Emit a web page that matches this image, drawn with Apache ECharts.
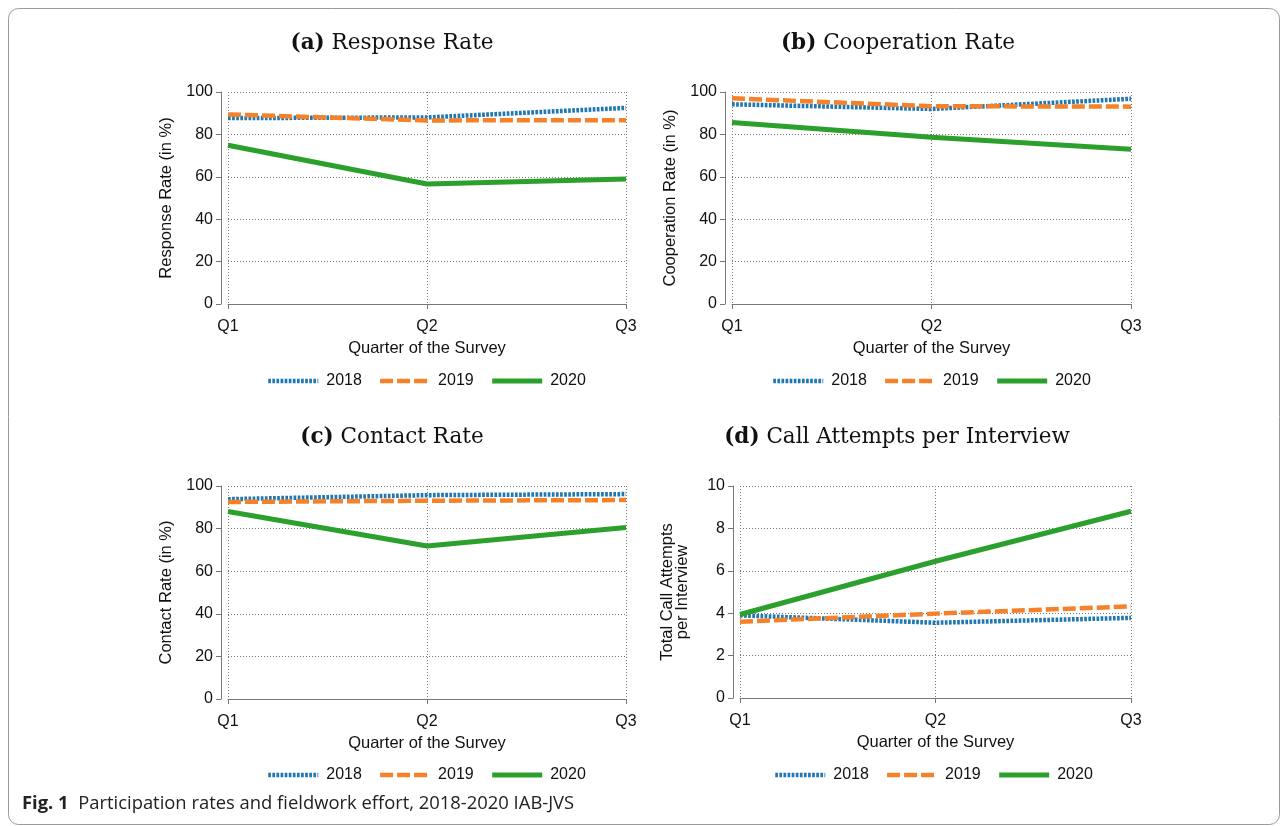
<!DOCTYPE html>
<html>
<head>
<meta charset="utf-8">
<script src="https://cdn.jsdelivr.net/npm/echarts@6/dist/echarts.min.js"></script>
<style>
  html, body { margin: 0; padding: 0; background: #fff; }
  #chart { width: 1288px; height: 826px; }
</style>
</head>
<body>
<div id="chart"></div>
<script>
// data
var quarters = ["Q1", "Q2", "Q3"];
var years = ["2018", "2019", "2020"];

var response2018 = [87.7, 88.0, 92.5];
var response2019 = [89.4, 86.6, 86.7];
var response2020 = [74.9, 56.6, 59.0];

var coop2018 = [94.2, 92.0, 96.8];
var coop2019 = [97.0, 93.3, 93.1];
var coop2020 = [85.6, 78.6, 73.0];

var contact2018 = [93.8, 95.7, 96.2];
var contact2019 = [92.5, 93.1, 93.4];
var contact2020 = [88.0, 71.8, 80.5];

var calls2018 = [3.9, 3.55, 3.78];
var calls2019 = [3.6, 3.98, 4.32];
var calls2020 = [3.94, 6.45, 8.81];

var rateTicks = { min: 0, max: 100, interval: 20 };
var callTicks = { min: 0, max: 10, interval: 2 };

var colors = ["#1f77b4", "#f5822a", "#2ca02c"];
var lineTypes = [[2.7, 1.4], [13, 4], "solid"];
var lineWidths = [4.5, 4.5, 5];

var sans = "Liberation Sans";
var serif = "DejaVu Serif";

var panels = [
  { tag: "(a)", title: "Response Rate", yName: "Response Rate (in %)", ticks: rateTicks,
    data: [response2018, response2019, response2020],
    left: 228, top: 92, width: 398, height: 212, titleX: 392, titleY: 32, legendX: 266, legendY: 373 },
  { tag: "(b)", title: "Cooperation Rate", yName: "Cooperation Rate (in %)", ticks: rateTicks,
    data: [coop2018, coop2019, coop2020],
    left: 732, top: 92, width: 399, height: 212, titleX: 898, titleY: 32, legendX: 771, legendY: 373 },
  { tag: "(c)", title: "Contact Rate", yName: "Contact Rate (in %)", ticks: rateTicks,
    data: [contact2018, contact2019, contact2020],
    left: 228, top: 486, width: 398, height: 213, titleX: 392, titleY: 426, legendX: 266, legendY: 767 },
  { tag: "(d)", title: "Call Attempts per Interview", yName: "Total Call Attempts\nper Interview", ticks: callTicks,
    data: [calls2018, calls2019, calls2020],
    left: 740, top: 486, width: 391, height: 212, titleX: 897, titleY: 426, legendX: 773, legendY: 767 }
];

var option = {
  animation: false,
  backgroundColor: "#fff",
  title: [],
  grid: [],
  xAxis: [],
  yAxis: [],
  legend: [],
  series: [],
  graphic: [
    {
      type: "rect",
      shape: { x: 8.5, y: 8.5, width: 1271, height: 816, r: 10 },
      style: { fill: "none", stroke: "#9a9a9a", lineWidth: 1 }
    },
    {
      type: "text",
      left: 22,
      top: 795,
      style: {
        text: "{b|Fig. 1}  Participation rates and fieldwork effort, 2018-2020 IAB-JVS",
        font: "18.4px 'Open Sans'",
        fill: "#222",
        rich: {
          b: { fontFamily: "Open Sans", fontSize: 18.4, fontWeight: "bold", fill: "#222" }
        }
      }
    }
  ]
};

panels.forEach(function (p, i) {
  option.title.push({
    text: "{b|" + p.tag + "} " + p.title,
    left: p.titleX,
    top: p.titleY,
    textAlign: "center",
    padding: 0,
    textStyle: {
      fontFamily: serif, fontSize: 21.5, fontWeight: "normal", color: "#111",
      rich: { b: { fontFamily: serif, fontSize: 21.5, fontWeight: "bold", color: "#111" } }
    }
  });
  option.grid.push({ left: p.left, top: p.top, width: p.width, height: p.height, containLabel: false });
  option.xAxis.push({
    type: "category",
    gridIndex: i,
    data: quarters,
    boundaryGap: false,
    offset: 7,
    name: "Quarter of the Survey",
    nameLocation: "middle",
    nameGap: 29,
    nameTextStyle: { fontFamily: sans, fontSize: 16.5, color: "#111" },
    axisLine: { lineStyle: { color: "#777", width: 1 } },
    axisTick: { show: true, length: 5, alignWithLabel: true, lineStyle: { color: "#777" } },
    axisLabel: { fontFamily: sans, fontSize: 16, color: "#111", margin: 8 },
    splitLine: { show: true, lineStyle: { color: "#777", type: [1, 2], width: 1 } }
  });
  option.yAxis.push({
    type: "value",
    gridIndex: i,
    min: p.ticks.min,
    max: p.ticks.max,
    interval: p.ticks.interval,
    offset: 7,
    name: p.yName,
    nameLocation: "middle",
    nameGap: i === 3 ? 43 : 47,
    nameTextStyle: { fontFamily: sans, fontSize: 16.5, color: "#111", lineHeight: 15 },
    axisLine: { show: true, lineStyle: { color: "#777", width: 1 } },
    axisTick: { show: true, length: 5, lineStyle: { color: "#777" } },
    axisLabel: { fontFamily: sans, fontSize: 16, color: "#111", margin: 8 },
    splitLine: { show: true, lineStyle: { color: "#777", type: [1, 2], width: 1 } }
  });
  option.legend.push({
    data: years,
    left: p.legendX,
    top: p.legendY,
    padding: 0,
    itemWidth: 50,
    itemHeight: 14,
    itemGap: 16,
    selectedMode: false,
    itemStyle: { opacity: 0 },
    lineStyle: { width: "inherit" },
    textStyle: { fontFamily: sans, fontSize: 16, color: "#111", padding: [0, 0, 0, 3] }
  });
  years.forEach(function (y, k) {
    option.series.push({
      name: y,
      type: "line",
      xAxisIndex: i,
      yAxisIndex: i,
      data: p.data[k],
      symbol: "none",
      color: colors[k],
      lineStyle: { color: colors[k], width: lineWidths[k], type: lineTypes[k], cap: "butt" },
      z: 3 + k
    });
  });
});

var chart = echarts.init(document.getElementById("chart"));
chart.setOption(option);
window.addEventListener("resize", function () { chart.resize(); });
</script>
</body>
</html>
